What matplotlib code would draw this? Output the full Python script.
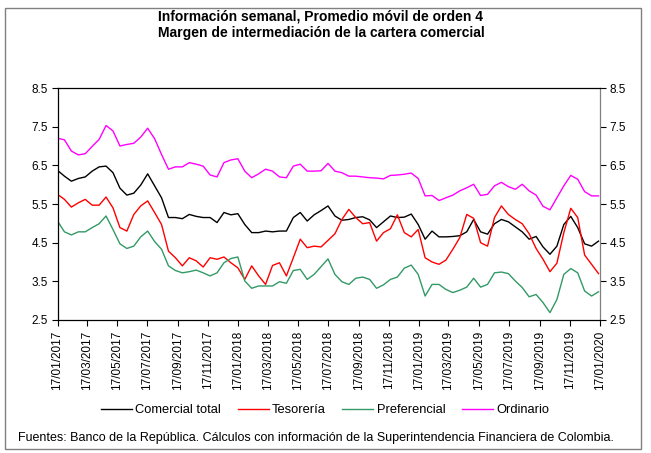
import matplotlib
matplotlib.use("Agg")
import matplotlib.pyplot as plt
from matplotlib.patches import Rectangle
import pandas as pd

plt.rcParams['font.family'] = ['Liberation Sans', 'DejaVu Sans']

start_date = "2017-01-17"
step_days = 14

comercial_total = [6.37, 6.22, 6.09, 6.16, 6.20, 6.35, 6.46, 6.48, 6.31, 5.91, 5.73, 5.78, 5.99, 6.28, 5.97, 5.66,
                   5.15, 5.15, 5.12, 5.23, 5.18, 5.15, 5.15, 5.02, 5.28, 5.22, 5.25, 4.97, 4.76, 4.76, 4.80, 4.78,
                   4.80, 4.80, 5.15, 5.28, 5.06, 5.22, 5.33, 5.45, 5.19, 5.08, 5.10, 5.15, 5.17, 5.09, 4.89, 5.04,
                   5.19, 5.15, 5.16, 5.24, 4.97, 4.59, 4.80, 4.65, 4.65, 4.66, 4.68, 4.78, 5.10, 4.78, 4.72, 4.99,
                   5.10, 5.04, 4.91, 4.78, 4.59, 4.66, 4.39, 4.20, 4.41, 4.97, 5.18, 4.89, 4.47, 4.41, 4.54]
tesoreria = [5.75, 5.62, 5.42, 5.53, 5.62, 5.47, 5.47, 5.68, 5.40, 4.89, 4.80, 5.23, 5.45, 5.58, 5.28, 4.97,
             4.28, 4.11, 3.90, 4.11, 4.03, 3.87, 4.11, 4.07, 4.13, 3.98, 3.85, 3.55, 3.90, 3.64, 3.42, 3.91,
             3.98, 3.64, 4.11, 4.59, 4.37, 4.41, 4.39, 4.56, 4.73, 5.10, 5.36, 5.15, 4.99, 5.02, 4.54, 4.76,
             4.86, 5.22, 4.76, 4.65, 4.84, 4.11, 4.00, 3.94, 4.05, 4.33, 4.63, 5.23, 5.13, 4.50, 4.41, 5.15,
             5.45, 5.23, 5.10, 4.99, 4.73, 4.35, 4.07, 3.75, 3.97, 4.76, 5.39, 5.15, 4.18, 3.94, 3.70]
preferencial = [5.06, 4.78, 4.70, 4.78, 4.78, 4.89, 4.99, 5.19, 4.84, 4.47, 4.35, 4.41, 4.65, 4.80, 4.53, 4.33,
                3.90, 3.78, 3.72, 3.75, 3.79, 3.72, 3.64, 3.72, 3.98, 4.09, 4.13, 3.51, 3.32, 3.38, 3.38, 3.38,
                3.49, 3.45, 3.78, 3.81, 3.55, 3.68, 3.88, 4.08, 3.68, 3.49, 3.42, 3.58, 3.61, 3.55, 3.32, 3.41,
                3.55, 3.61, 3.84, 3.92, 3.68, 3.12, 3.42, 3.42, 3.29, 3.21, 3.27, 3.35, 3.58, 3.35, 3.42, 3.72,
                3.74, 3.70, 3.51, 3.34, 3.10, 3.16, 2.95, 2.69, 3.03, 3.68, 3.83, 3.72, 3.25, 3.12, 3.23]
ordinario = [7.20, 7.16, 6.87, 6.77, 6.80, 6.99, 7.17, 7.53, 7.39, 7.00, 7.04, 7.07, 7.23, 7.46, 7.19, 6.78,
             6.40, 6.46, 6.46, 6.57, 6.53, 6.48, 6.25, 6.20, 6.57, 6.64, 6.67, 6.35, 6.18, 6.28, 6.40, 6.35,
             6.20, 6.18, 6.48, 6.53, 6.35, 6.35, 6.36, 6.55, 6.35, 6.31, 6.22, 6.22, 6.20, 6.18, 6.17, 6.15,
             6.24, 6.25, 6.27, 6.30, 6.16, 5.71, 5.72, 5.59, 5.66, 5.73, 5.84, 5.92, 6.01, 5.72, 5.75, 5.97,
             6.06, 5.95, 5.88, 6.01, 5.84, 5.73, 5.44, 5.35, 5.66, 5.97, 6.24, 6.14, 5.82, 5.71, 5.71]

series_names = ["Comercial total", "Tesorería", "Preferencial", "Ordinario"]
series_colors = ["#000000", "#FF0000", "#339966", "#FF00FF"]
y_ticks = [2.5, 3.5, 4.5, 5.5, 6.5, 7.5, 8.5]
x_tick_dates = pd.date_range("2017-01-01", "2020-01-01", freq="2MS") + pd.Timedelta(days=16)

title = "Información semanal, Promedio móvil de orden 4\nMargen de intermediación de la cartera comercial"
footnote = "Fuentes: Banco de la República. Cálculos con información de la Superintendencia Financiera de Colombia."

dates = pd.date_range(start_date, periods=len(comercial_total), freq=f"{step_days}D")

W, H = 651, 453
fig = plt.figure(figsize=(W / 100, H / 100), dpi=100)
ax = fig.add_axes([57.5 / W, 1 - 320 / H, (600 - 57.5) / W, (320 - 88) / H])

for vals, name, col in zip([comercial_total, tesoreria, preferencial, ordinario], series_names, series_colors):
    ax.plot(dates, vals, color=col, lw=1.0, label=name)

ax.set_xlim(pd.Timestamp("2017-01-17"), pd.Timestamp("2020-01-17"))
ax.set_ylim(2.5, 8.5)
ax.set_yticks(y_ticks)
ax.set_yticklabels([f"{v:.1f}" for v in y_ticks])
ax.set_xticks(x_tick_dates)
ax.set_xticklabels([d.strftime("%d/%m/%Y") for d in x_tick_dates], rotation=90)
ax.tick_params(axis="both", labelsize=8.5, direction="out", length=4, width=0.8, colors="#000000")
ax.tick_params(axis="y", right=True, labelright=True, pad=3)
for s in ax.spines.values():
    s.set_linewidth(0.9)
ax.spines["right"].set_color("#808080")

fig.text(0.493, 1 - 25 / H, title, ha="center", va="center", fontsize=10, fontweight="bold", linespacing=1.25)

leg = fig.legend(loc="center", bbox_to_anchor=(325 / W, 1 - 410 / H), ncol=4, frameon=False,
                 fontsize=9.3, handlelength=2.4, columnspacing=1.3, handletextpad=0.25)

fig.text(316 / W, 1 - 438 / H, footnote, ha="center", va="center", fontsize=9)

fig.patches.append(Rectangle((5 / W, 1 - 449 / H), (641 - 5) / W, (449 - 8) / H, transform=fig.transFigure,
                             fill=False, edgecolor="#808080", lw=1.0))

fig.savefig("out.png", dpi=100)
